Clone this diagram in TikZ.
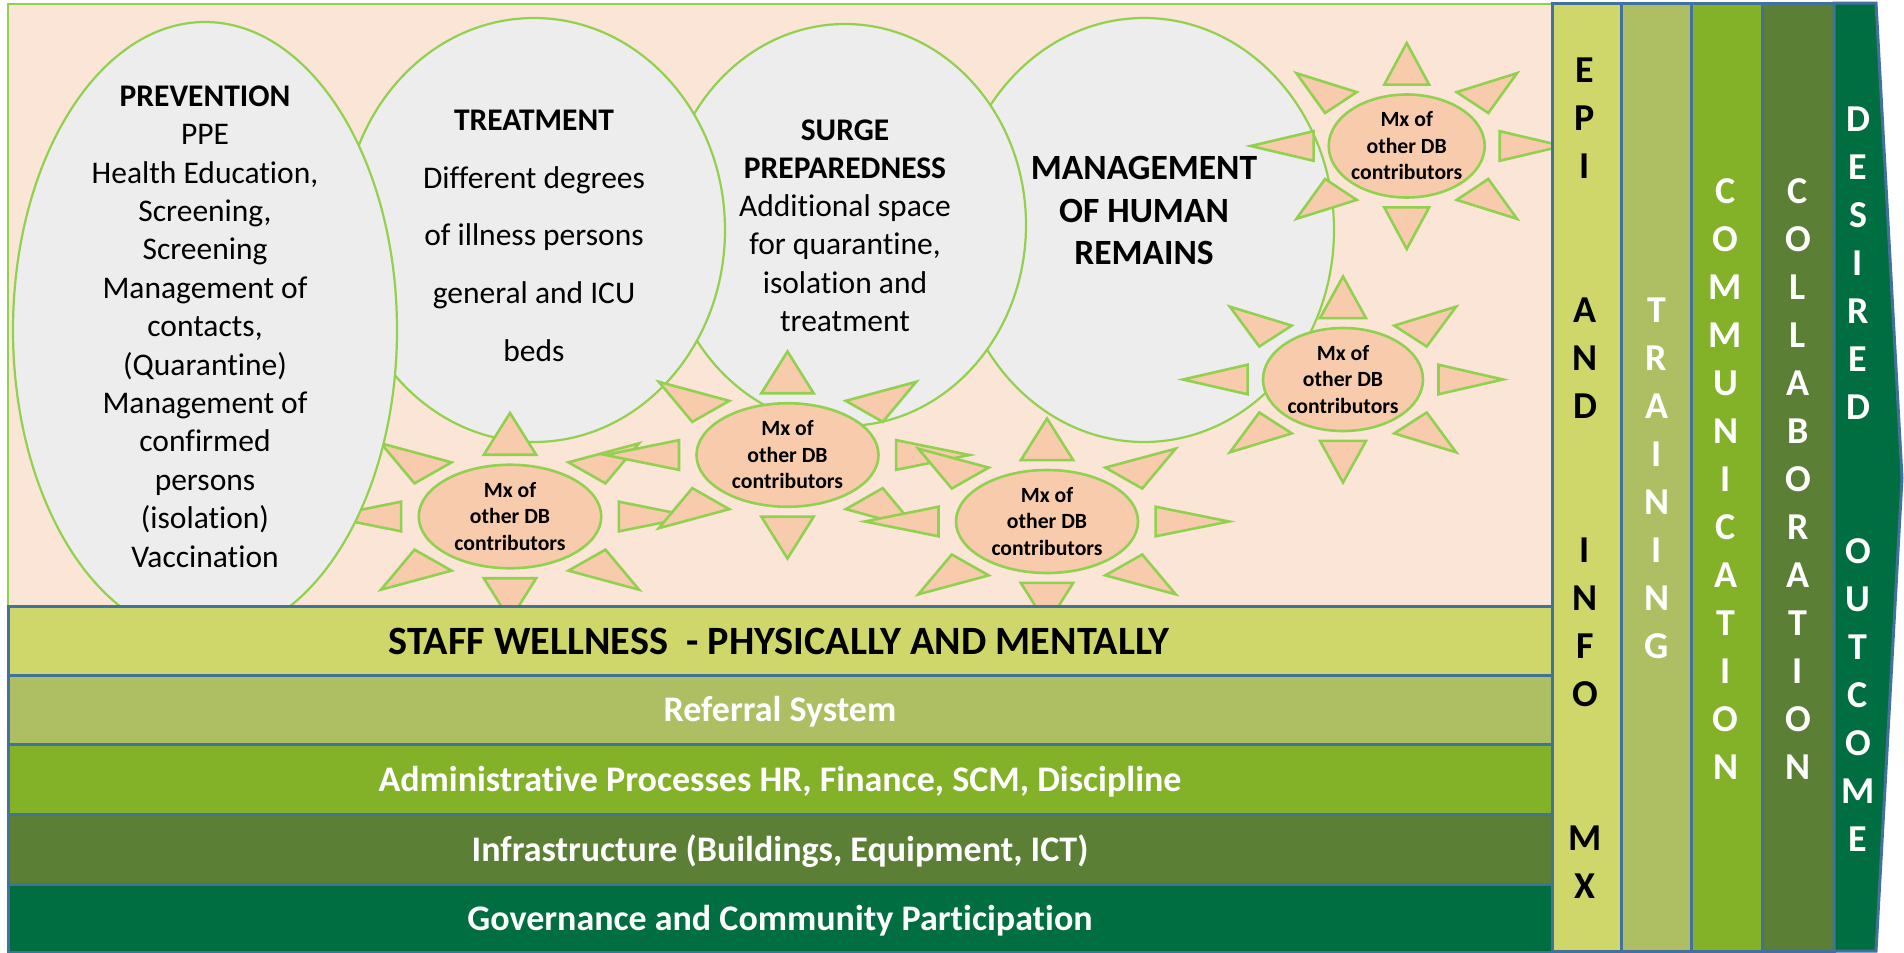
\documentclass[tikz,border=0pt]{standalone}
\usepackage{fontspec}
\setmainfont{Carlito}[Ligatures={NoCommon,NoRare,NoContextual}]
\definecolor{peach}{HTML}{FBE5D6}
\definecolor{greenline}{HTML}{92D050}
\definecolor{ellgray}{HTML}{EDEDED}
\definecolor{sunfill}{HTML}{F8CBAD}
\definecolor{barblue}{HTML}{41719C}
\definecolor{cStaff}{HTML}{D0D76A}
\definecolor{cRef}{HTML}{AEBF63}
\definecolor{cAdmin}{HTML}{83B229}
\definecolor{cInfra}{HTML}{5B7F35}
\definecolor{cGov}{HTML}{006E40}
\newcommand\sunrays[5]{%
 \begin{scope}[shift={(#2,#3)},x=#4pt,y=#5pt]
  \foreach \a/\b/\c/\d/\e/\f in {
    0.5/0/0.29823/0.07175/0.29823/-0.07175,
    0.35354/-0.35356/0.26161/-0.16013/0.16013/-0.26161,
    0/-0.5/0.07175/-0.29823/-0.07175/-0.29823,
    -0.35356/-0.35356/-0.16013/-0.26161/-0.26161/-0.16013,
    -0.5/0/-0.29823/-0.07175/-0.29823/0.07175,
    -0.35356/0.35354/-0.26161/0.16013/-0.16013/0.26161,
    0/0.5/-0.07175/0.29823/0.07175/0.29823,
    0.35354/0.35354/0.16013/0.26161/0.26161/0.16013}
   {\filldraw[sunstyle] (\a,\b) -- (\c,\d) -- (\e,\f) -- cycle;}
  \filldraw[sunstyle] (0,0) ellipse [x radius={0.25*#4pt}, y radius={0.25*#5pt}];
 \end{scope}
 \node[suntext] (#1) at (#2,#3) {Mx of\\other DB\\contributors};
}
\begin{document}
\begin{tikzpicture}[x=1pt,y=-1pt,
  sunstyle/.style={draw=greenline, fill=sunfill, line width=2.6pt, line join=miter},
  bigell/.style={draw=greenline, fill=ellgray, line width=2.2pt},
  suntext/.style={align=center, inner sep=0pt, font={\bfseries\fontsize{21.7}{26.5}\selectfont}},
  elltext/.style={align=center, inner sep=0pt},
  barbox/.style={draw=barblue, line width=3pt},
  bartext/.style={anchor=base, inner sep=0pt, text=white, font={\bfseries\fontsize{36}{43}\selectfont}},
  coltext/.style={align=center, inner sep=0pt, font={\bfseries\fontsize{38}{48}\selectfont}}]
\useasboundingbox (0,0) rectangle (1904,953);
\fill[white] (0,0) rectangle (1904,953);
% background panel
\draw[line width=2pt, draw=greenline, fill=peach] (8,4) rectangle (1552,606);
% big ellipses (right to left)
\draw[bigell] (1144,230) ellipse [x radius=190pt, y radius=212pt];
\draw[bigell] (845,225) ellipse [x radius=181pt, y radius=201pt];
\draw[bigell] (534,230) ellipse [x radius=191pt, y radius=212pt];
% suns
\sunrays{sunA}{510}{516.5}{365}{207}
\sunrays{sunB}{787.5}{455}{364}{207}
\sunrays{sunC}{1047}{521.5}{364}{206}
\sunrays{sunD}{1343}{379.5}{320}{206}
\sunrays{sunE}{1406.7}{146}{312}{206}
% prevention on top
\draw[bigell] (205,330) ellipse [x radius=192pt, y radius=308pt];
% ellipse texts
\node[elltext, font={\fontsize{31.5}{38.4}\selectfont}] (prev) at (205,326.5)
 {\textbf{PREVENTION}\\PPE\\Health Education,\\Screening,\\Screening\\Management of\\contacts,\\(Quarantine)\\Management of\\confirmed\\persons\\(isolation)\\Vaccination};
\node[elltext, font={\fontsize{31.5}{57.6}\selectfont}] (treat) at (534,235.8)
 {\textbf{TREATMENT}\\Different degrees\\of illness persons\\general and ICU\\beds};
\node[elltext, font={\fontsize{31.5}{38.2}\selectfont}] (surge) at (845,225.5)
 {\textbf{SURGE}\\\textbf{PREPAREDNESS}\\Additional space\\for quarantine,\\isolation and\\treatment};
\node[elltext, font={\bfseries\fontsize{35.5}{42.5}\selectfont}] (mgmt) at (1144,210.5)
 {MANAGEMENT\\OF HUMAN\\REMAINS};
% horizontal bars
\filldraw[barbox, fill=cStaff] (8,606) rectangle (1552,675);
\filldraw[barbox, fill=cRef] (8,675) rectangle (1552,744);
\filldraw[barbox, fill=cAdmin] (8,744) rectangle (1552,814);
\filldraw[barbox, fill=cInfra] (8,814) rectangle (1552,884);
\filldraw[barbox, fill=cGov] (8,884) rectangle (1552,952);
\node[bartext, text=black, font={\bfseries\fontsize{40.2}{48}\selectfont}] (staff) at (779,654) {STAFF WELLNESS~ - PHYSICALLY AND MENTALLY};
\node[bartext] (referral) at (780,721.5) {Referral System};
\node[bartext] (admin) at (780,791.5) {Administrative Processes HR, Finance, SCM, Discipline};
\node[bartext] (infra) at (780,861.5) {Infrastructure (Buildings, Equipment, ICT)};
\node[bartext] (gov) at (780,930.5) {Governance and Community Participation};
% vertical columns
\filldraw[barbox, fill=cStaff] (1552,3) rectangle (1621,951);
\filldraw[barbox, fill=cRef] (1621,3) rectangle (1691,951);
\filldraw[barbox, fill=cAdmin] (1691,3) rectangle (1762,951);
\filldraw[barbox, fill=cInfra] (1762,3) rectangle (1834,951);
\filldraw[barbox, fill=cGov, line join=miter] (1834,3) -- (1876,3) -- (1902,478) -- (1876,951) -- (1834,951) -- cycle;
\node[coltext, text=black] (epi) at (1585,478.5) {E\\P\\I\\~\\~\\A\\N\\D\\~\\~\\I\\N\\F\\O\\~\\~\\M\\X};
\node[coltext, text=white] (training) at (1656.5,478.5) {T\\R\\A\\I\\N\\I\\N\\G};
\node[coltext, text=white] (comm) at (1725.5,479) {C\\O\\M\\M\\U\\N\\I\\C\\A\\T\\I\\O\\N};
\node[coltext, text=white] (collab) at (1798,479) {C\\O\\L\\L\\A\\B\\O\\R\\A\\T\\I\\O\\N};
\node[coltext, text=white] (desired) at (1858,479) {D\\E\\S\\I\\R\\E\\D\\~\\~\\O\\U\\T\\C\\O\\M\\E};
\end{tikzpicture}
\end{document}
